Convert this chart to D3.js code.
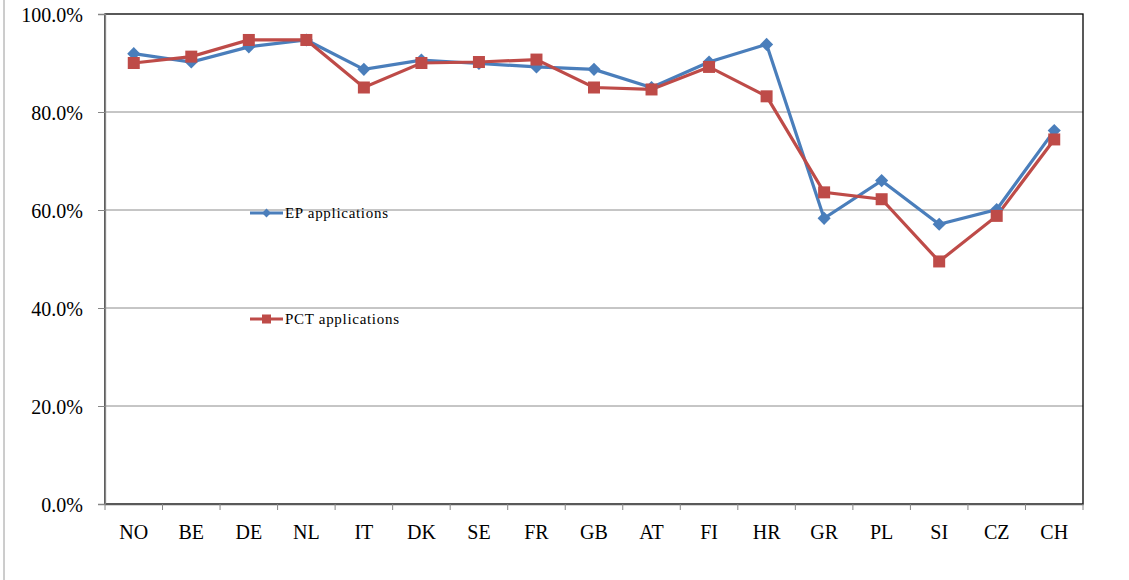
<!DOCTYPE html>
<html>
<head>
<meta charset="utf-8">
<script src="https://d3js.org/d3.v7.min.js"></script>
<style>
  body { margin:0; background:white; }
</style>
</head>
<body>
<script>
var countries=["NO","BE","DE","NL","IT","DK","SE","FR","GB","AT","FI","HR","GR","PL","SI","CZ","CH"];
var epValues=[91.9,90.2,93.3,94.7,88.7,90.6,89.9,89.2,88.7,85.0,90.2,93.8,58.3,66.0,57.1,60.1,76.2];
var pctValues=[90.0,91.3,94.7,94.7,85.0,90.0,90.2,90.7,85.0,84.6,89.2,83.2,63.6,62.2,49.5,58.8,74.4];
var yTicks=[0,20,40,60,80,100];
var seriesNames=["EP applications","PCT applications"];

var width=1129,height=580;
var plotLeft=105,plotRight=1083,plotTop=14,plotBottom=504;
var serif="'Liberation Serif','Times New Roman',serif";

var svg=d3.select("body").append("svg").attr("width",width).attr("height",height);

// outer chart frame edge on the left
svg.append("line").attr("x1",4).attr("x2",4).attr("y1",0).attr("y2",height)
   .attr("stroke","#9a9a9a").attr("stroke-width",1);

var x=d3.scaleBand().domain(countries).range([plotLeft,plotRight]);
var y=d3.scaleLinear().domain([0,100]).range([plotBottom,plotTop]);

// gridlines
svg.append("g").selectAll("line").data(yTicks.slice(1,-1)).enter().append("line")
   .attr("x1",plotLeft).attr("x2",plotRight)
   .attr("y1",function(d){return y(d);}).attr("y2",function(d){return y(d);})
   .attr("stroke","#8c8c8c").attr("stroke-width",1);

// plot border
svg.append("rect").attr("x",plotLeft).attr("y",plotTop).attr("width",plotRight-plotLeft).attr("height",plotBottom-plotTop)
   .attr("fill","none").attr("stroke","#000").attr("stroke-width",1.3);

var yAxis=svg.append("g").attr("transform","translate("+plotLeft+",0)")
   .call(d3.axisLeft(y).tickValues(yTicks).tickSize(7).tickPadding(15)
         .tickFormat(function(d){return d.toFixed(1)+"%";}));
yAxis.attr("font-family",serif).attr("font-size",20);
yAxis.select(".domain").attr("stroke","#868686").attr("stroke-width",1.3);
yAxis.selectAll(".tick line").attr("stroke","#868686");
yAxis.selectAll(".tick text").attr("fill","#000").attr("dy","0.35em");

var xAxis=svg.append("g").attr("transform","translate(0,"+plotBottom+")")
   .call(d3.axisBottom(x).tickSize(0).tickPadding(28));
xAxis.attr("font-family",serif).attr("font-size",20);
xAxis.select(".domain").attr("stroke","#5a5a5a").attr("stroke-width",1.3);
xAxis.selectAll(".tick text").attr("fill","#000").attr("dy","0.35em");

// category boundary ticks
var bounds=countries.map(function(c){return x(c);}).concat([plotRight]);
svg.append("g").selectAll("line").data(bounds).enter().append("line")
   .attr("x1",function(d){return d;}).attr("x2",function(d){return d;})
   .attr("y1",plotBottom).attr("y2",plotBottom+6).attr("stroke","#868686");

var cx=function(d,i){return x(countries[i])+x.bandwidth()/2;};
var line=d3.line().x(cx).y(function(d){return y(d);});

var blue="#4a7ebb",red="#be4b48";

svg.append("path").datum(epValues).attr("d",line).attr("fill","none")
   .attr("stroke",blue).attr("stroke-width",3.2);
svg.append("path").datum(pctValues).attr("d",line).attr("fill","none")
   .attr("stroke",red).attr("stroke-width",3.2);

var diamond=d3.symbol().type(d3.symbolDiamond2).size(110);
svg.append("g").selectAll("path").data(epValues).enter().append("path")
   .attr("d",diamond).attr("fill",blue)
   .attr("transform",function(d,i){return "translate("+cx(d,i)+","+y(d)+")";});
svg.append("g").selectAll("rect").data(pctValues).enter().append("rect")
   .attr("width",12).attr("height",12).attr("fill",red)
   .attr("x",function(d,i){return cx(d,i)-6;}).attr("y",function(d){return y(d)-6;});

// legend
var legendY=[213,319];
var colors=[blue,red];
var lg=svg.append("g").selectAll("g").data(seriesNames).enter().append("g")
   .attr("transform",function(d,i){return "translate(250,"+legendY[i]+")";});
lg.append("line").attr("x1",0).attr("x2",33).attr("stroke",function(d,i){return colors[i];}).attr("stroke-width",3);
lg.each(function(d,i){
  var g=d3.select(this);
  if(i===0) g.append("path").attr("d",d3.symbol().type(d3.symbolDiamond2).size(50)).attr("transform","translate(16.5,0)").attr("fill",blue);
  else g.append("rect").attr("x",12).attr("y",-4.5).attr("width",9).attr("height",9).attr("fill",red);
});
lg.append("text").attr("x",35).attr("y",5).attr("font-family",serif).attr("font-size",15)
  .attr("letter-spacing",0.7).attr("fill","#000").text(function(d){return d;});
</script>
</body>
</html>
